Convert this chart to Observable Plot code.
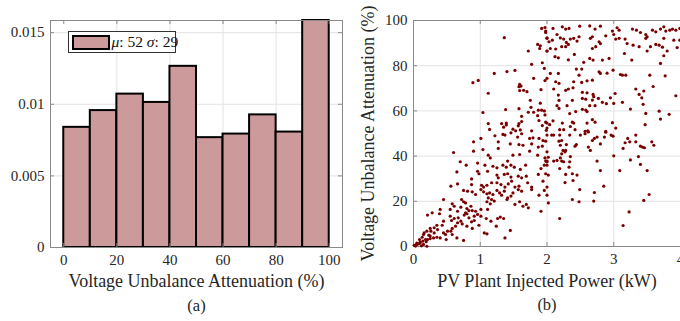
<!DOCTYPE html>
<html>
<head>
<meta charset="utf-8">
<script src="https://cdn.jsdelivr.net/npm/d3@7"></script>
<script src="https://cdn.jsdelivr.net/npm/@observablehq/plot@0.6"></script>
<style>
  body { margin: 0; background: #fff; font-family: "Liberation Serif", serif; }
  #wrap { position: relative; width: 680px; height: 321px; overflow: hidden; background: #fff; }
  #a, #b { position: absolute; top: 0; }
  #a { left: 0; }
  #b { left: 340px; }
  #wrap svg text { font-family: "Liberation Serif", "Times New Roman", serif !important; }
  #legend { position: absolute; left: 67.5px; top: 31px; width: 108px; height: 22px; border: 1px solid #333;
            background: #fff; box-sizing: border-box; font-size: 15.5px; color: #111; white-space: nowrap; }
  #legend .sw { position: absolute; left: 3px; top: 3px; width: 38px; height: 14.5px; background: #cc9a9a;
                border: 2px solid #000; box-sizing: border-box; }
  #legend .tx { position: absolute; left: 43px; top: 1px; line-height: 18px; }
</style>
</head>
<body>
<div id="wrap">
  <div id="a"></div>
  <div id="b"></div>
  <div id="legend"><div class="sw"></div><div class="tx"><i>μ</i>: 52 <i>σ</i>: 29</div></div>
</div>
<script>
// ---- Panel (a): histogram (probability density) ----
const binStart = [0, 10, 20, 30, 40, 50, 60, 70, 80, 90];
const binEnd   = [10, 20, 30, 40, 50, 60, 70, 80, 90, 100];
const density  = [0.00839, 0.00956, 0.01071, 0.01013, 0.01265, 0.00767, 0.00792, 0.00926, 0.00806, 0.01585];
const xTicksA = [0, 20, 40, 60, 80, 100];
const yTicksA = [0, 0.005, 0.01, 0.015];
const yTickLabelsA = ["0", "0.005", "0.01", "0.015"];
const xLabelA = "Voltage Unbalance Attenuation (%)";
const captionA = "(a)";

// ---- Panel (b): scatter ----
const xTicksB = [0, 1, 2, 3, 4];
const yTicksB = [0, 20, 40, 60, 80, 100];
const xLabelB = "PV Plant Injected Power (kW)";
const yLabelB = "Voltage Unbalance Attenuation (%)";
const captionB = "(b)";
// [injected power kW, attenuation %]
const scatterPoints = [
[1.92,96.5],[1.97,96.9],[1.98,94.7],[2.0,92.1],[1.36,92.4],[1.86,89.4],[1.90,88.8],[1.89,87.6],[2.0,86.5],[1.72,86.5],
[1.93,81.3],[1.77,80.6],[1.96,78.8],[1.52,77.9],[1.40,77.4],[1.21,76.6],[0.97,73.5],[0.89,72.5],[1.80,74.4],[1.97,73.4],
[1.59,71.8],[1.58,70.7],[1.61,71.0],[1.59,69.0],[1.65,69.1],[1.70,68.5],[1.12,67.8],[1.91,69.4],[1.75,64.7],[1.90,63.4],
[1.76,61.6],[1.58,61.0],[1.38,60.6],[1.04,59.3],[1.72,59.4],[1.80,59.4],[1.87,60.3],[1.92,60.3],[1.96,60.0],[1.86,57.9],
[1.97,58.2],[1.62,57.6],[1.88,55.7],[1.62,55.3],[1.12,54.4],[1.32,54.4],[1.39,54.6],[1.39,53.8],[1.58,54.4],[1.57,53.4],
[2.0,54.6],[1.93,53.5],[1.35,52.8],[1.14,51.8],[1.49,51.9],[1.53,51.2],[1.60,51.6],[1.77,51.2],[1.99,51.4],
[1.98,95.3],[2.09,96.5],[2.23,97.2],[2.33,96.5],[2.28,96.2],[2.49,97.5],[2.64,97.6],[2.72,96.2],[2.80,97.5],[3.05,96.8],
[3.08,95.7],[2.98,95.3],[3.28,96.2],[3.34,95.7],[3.40,94.7],[3.48,93.8],[3.58,95.7],[3.63,95.0],[3.70,96.2],[3.75,97.2],
[3.78,95.3],[3.84,95.7],[3.88,96.2],[3.93,95.7],[3.99,96.5],[2.0,92.3],[2.08,91.3],[2.03,90.6],[2.15,93.8],[2.20,92.3],
[2.25,91.8],[2.29,90.3],[2.32,89.4],[2.35,91.8],[2.40,92.1],[2.45,90.9],[2.48,92.8],[2.65,92.1],[2.68,92.8],[2.78,90.6],
[2.80,89.8],[2.88,93.2],[3.0,93.8],[3.03,91.8],[3.08,92.1],[3.17,91.8],[3.20,89.8],[3.29,89.1],[3.38,88.4],[3.48,92.1],
[3.50,92.8],[3.55,88.4],[3.63,89.4],[3.68,89.1],[3.73,88.2],[3.75,92.1],[3.80,86.5],[3.90,91.3],[3.95,88.0],[3.99,91.3],
[2.0,86.5],[2.05,87.6],[2.13,87.4],[2.22,88.4],[2.28,88.4],[2.68,87.6],[2.73,88.4],[3.16,85.4],[3.27,82.5],[3.50,86.5],
[2.12,84.0],[2.17,83.5],[2.32,82.6],[2.41,85.0],[2.64,83.2],[2.69,82.5],[2.83,82.5],[2.93,83.2],[3.75,84.4],[3.70,81.0],
[2.55,81.5],
[2.44,78.5],[2.52,78.5],[2.05,76.6],[2.17,76.6],[2.48,75.8],[2.78,77.3],[2.80,76.6],[2.90,76.7],[2.99,78.0],[3.10,76.1],
[3.13,75.8],[3.18,75.8],[3.54,75.8],[3.77,75.5],[2.0,74.4],[2.18,72.2],[2.13,72.9],[2.40,72.9],[2.52,72.6],[2.60,73.3],
[2.68,73.6],[3.33,69.7],[3.59,70.8],[3.45,68.8],[2.10,69.7],[2.28,69.1],[2.32,69.7],[2.39,70.2],[2.53,68.2],[2.60,68.0],
[2.69,67.3],[2.70,66.3],[3.02,67.7],[3.38,67.3],[3.93,66.7],[2.17,67.0],[2.18,64.7],[2.53,65.5],[2.58,65.2],[2.68,64.8],
[2.77,65.5],[2.95,65.8],[3.42,65.8],[2.38,64.7],[2.83,63.8],[2.89,63.2],[3.0,63.3],[3.13,63.8],[3.44,62.9],[2.15,62.3],
[2.30,62.3],[2.64,62.3],[2.72,62.3],[2.18,61.1],[2.53,60.7],[2.58,60.4],[3.25,60.8],[3.48,58.9],[3.68,59.9],[3.83,58.5],
[2.34,58.8],[2.43,59.7],[2.60,59.7],[3.70,56.4],
[1.98,55.0],[2.04,53.9],[2.09,55.6],[2.0,52.4],[2.23,54.6],[2.38,55.0],[2.40,54.6],[2.35,53.1],[2.60,54.6],[2.68,56.1],
[2.72,55.0],[2.98,54.8],[3.47,53.9],[2.19,51.7],[2.25,51.7],[2.42,51.7],[2.57,50.9],[2.61,51.2],[2.88,50.9],[3.03,52.4],
[1.01,47.8],[1.22,49.0],[1.34,49.6],[1.37,49.3],[1.46,50.3],[1.56,48.4],[1.62,49.9],[1.74,47.8],[1.79,48.1],[1.88,47.8],
[1.94,46.9],[0.90,46.3],[1.27,46.3],[1.45,45.4],[1.58,45.1],[1.64,44.8],[1.77,45.4],[1.87,44.0],[1.93,44.4],[0.60,41.6],
[0.90,42.2],[1.04,42.9],[1.27,43.4],[1.12,40.4],[1.15,39.2],[1.49,40.4],[1.59,40.7],[1.74,42.2],[1.86,40.4],[1.97,39.2],
[2.0,37.5],[0.70,37.5],[0.79,36.0],[0.96,36.9],[1.07,36.0],[1.19,35.5],[1.25,34.8],[1.34,36.0],[1.41,37.8],[1.39,35.1],
[1.46,36.0],[1.51,35.1],[1.60,34.1],[1.68,36.0],[1.91,34.5],[1.96,36.0],[2.0,37.8],[0.65,33.0],[0.96,33.3],[0.98,32.2],
[1.11,33.3],[1.25,31.6],[1.27,30.4],[1.36,31.9],[1.41,32.2],[1.46,30.7],[1.47,28.9],[1.57,31.1],[1.62,30.4],[1.69,31.1],
[1.87,31.9],[0.87,29.9],[0.87,27.4],[0.56,26.7],[0.66,27.7],[1.02,27.1],[1.05,26.3],[1.10,27.1],[1.17,28.2],[1.25,28.2],
[1.31,27.4],[1.37,26.3],[1.42,27.7],[1.52,26.3],[1.58,26.7],[1.71,28.2],[1.77,26.3],[1.94,28.9],[1.98,32.2],[0.75,24.8],
[0.81,24.5],[0.88,24.2],[0.93,23.0],[1.01,25.2],[1.05,24.2],[1.10,23.3],[1.14,23.7],[1.19,23.0],[1.25,24.8],[1.29,23.7],
[1.32,22.7],[1.36,24.5],[1.41,21.5],[1.49,23.7],[1.57,25.2],[1.62,24.5],[1.77,25.2],[1.88,22.7],[1.96,24.8],[2.0,26.3],
[0.45,20.8],[0.72,20.8],[0.75,19.8],[0.78,19.3],[1.12,21.5],[1.17,20.8],[1.10,19.8],[1.15,18.9],[1.21,20.1],[1.11,16.4],
[1.40,20.8],[1.46,22.3],[1.59,19.8],[1.64,17.8],[1.72,17.1],[1.69,18.6],[1.91,15.6],[1.52,18.6],[0.86,17.8],[0.80,16.8],
[0.71,17.4],[0.58,18.9],[0.61,17.8],[0.55,16.4],[0.66,15.6],[0.40,16.4],[0.28,14.9],[0.39,14.5],[0.88,15.9],[1.01,16.4],
[0.93,15.6],[0.83,15.9],[0.78,14.9],[0.21,13.9],[0.55,13.4],[0.61,12.4],[0.67,12.7],[0.76,13.9],[0.80,14.5],[0.83,12.7],
[0.91,13.4],[0.96,14.2],[1.01,13.4],[1.09,12.4],[1.16,11.2],[1.26,12.4],[1.30,13.0],[1.35,12.4],[1.24,9.0],[0.57,11.5],
[0.45,11.2],[0.43,9.4],[0.35,9.4],[0.31,8.3],[0.25,8.0],[0.20,6.8],[0.16,6.0],[0.15,5.3],[0.23,5.0],[0.31,6.0],
[0.36,7.5],[0.45,6.0],[0.51,6.8],[0.56,6.8],[0.58,8.0],[0.63,9.0],[0.66,10.5],[0.71,11.2],[0.73,10.0],[0.80,9.0],
[0.87,10.9],[0.91,11.5],[0.88,8.0],[0.98,9.4],[1.06,6.0],[1.10,5.6],[1.45,7.1],[1.37,3.8],[0.75,2.7],[0.65,3.8],
[0.49,3.1],[0.40,3.8],[0.35,4.1],[0.30,3.8],[0.25,3.5],[0.21,3.1],[0.18,3.1],[0.14,2.4],[0.10,1.6],[0.08,1.2],
[0.05,0.9],[0.03,0.6],[0.15,0.9],[0.19,2.1],[0.25,4.6],[0.09,3.1],[0.13,4.1],[0.26,6.8],[0.48,5.3],[0.58,5.3],
[0.01,0.5],[0.05,1.5],[0.10,2.0],[0.12,0.3],[0.20,0.1],[0.03,0.2],
[2.0,49.3],[2.07,49.3],[2.10,49.3],[2.19,49.3],[2.34,49.3],[2.50,49.3],[2.57,49.9],[2.62,50.7],[2.75,48.4],[2.71,47.8],
[2.68,46.9],[2.88,50.6],[2.86,48.4],[2.96,49.3],[2.99,48.8],[3.33,49.3],[3.21,47.8],[3.17,45.9],[3.24,46.3],[3.33,46.3],
[3.40,44.4],[3.43,44.0],[3.46,43.7],[3.57,46.3],[3.60,44.8],[1.98,46.6],[2.18,46.6],[2.22,46.9],[2.29,45.1],[2.42,44.4],
[2.44,45.1],[2.62,44.0],[2.65,42.5],[2.80,45.4],[2.20,44.8],[2.24,42.5],[2.28,42.5],[2.27,41.9],[2.22,41.0],[2.20,39.2],
[2.0,41.9],[2.02,39.5],[1.98,37.8],[2.0,36.0],[2.10,37.8],[2.15,38.1],[2.22,37.8],[2.25,37.5],[2.34,37.5],[2.35,39.8],
[3.0,40.1],[3.37,39.8],[3.14,43.4],[3.25,38.3],[3.40,36.3],[2.75,37.8],[2.33,35.1],[2.19,34.5],[2.28,31.9],[2.38,32.2],
[2.45,31.6],[2.80,33.6],[3.09,33.6],[3.50,33.6],[2.02,31.6],[2.27,28.3],[2.39,29.2],[2.85,26.7],[2.49,25.2],[2.71,23.9],
[3.53,23.0],[3.45,20.4],[2.0,22.7],[2.02,19.3],[2.38,20.8],[2.48,19.8],[2.70,20.1],[3.23,15.3],[2.19,12.4],[3.14,9.3]
];

const fontFam = '"Liberation Serif", "Times New Roman", serif';
const svgStyle = { fontFamily: fontFam, fontSize: "15px", color: "#262626", background: "transparent", overflow: "visible", maxWidth: "none" };
const gridColor = "#e3e3e3";
const frameColor = "#8a8a8a";

// Panel (a)
const WA = 345, HA = 321, mlA = 50, mrA = 3, mtA = 20, mbA = 74;
const fwA = WA - mlA - mrA, fhA = HA - mtA - mbA;
const bins = binStart.map((s, i) => ({ x1: s, x2: binEnd[i], y: density[i] }));
const plotA = Plot.plot({
  width: WA, height: HA,
  marginLeft: mlA, marginRight: mrA, marginTop: mtA, marginBottom: mbA,
  style: svgStyle,
  x: { domain: [-5, 105] },
  y: { domain: [0, 0.01585] },
  marks: [
    Plot.ruleX(xTicksA.slice(1, -1), { stroke: gridColor, strokeWidth: 1 }),
    Plot.ruleY(yTicksA.slice(1), { stroke: gridColor, strokeWidth: 1 }),
    Plot.rectY(bins, { x1: "x1", x2: "x2", y: "y", fill: "#cc9a9a", stroke: "#000", strokeWidth: 2 }),
    Plot.frame({ stroke: frameColor, strokeWidth: 1 }),
    Plot.tickX(xTicksA, { x: d => d, insetTop: fhA - 4, stroke: frameColor }),
    Plot.tickX(xTicksA, { x: d => d, insetBottom: fhA - 4, stroke: frameColor }),
    Plot.tickY(yTicksA, { y: d => d, insetRight: fwA - 4, stroke: frameColor }),
    Plot.tickY(yTicksA, { y: d => d, insetLeft: fwA - 4, stroke: frameColor }),
    Plot.axisX(xTicksA, { tickSize: 0, tickPadding: 7, fontSize: 15, label: null, tickFormat: d => String(d) }),
    Plot.axisY(yTicksA, { tickSize: 0, tickPadding: 6, fontSize: 15, label: null, tickFormat: d => yTickLabelsA[yTicksA.indexOf(d)] }),
    Plot.text([xLabelA], { text: d => d, frameAnchor: "bottom", textAnchor: "middle", dy: 39, fontSize: 18, fill: "#262626" }),
    Plot.text([captionA], { text: d => d, frameAnchor: "bottom", textAnchor: "middle", dy: 63, fontSize: 16.5, fill: "#262626" })
  ]
});
document.getElementById("a").appendChild(plotA);

// Panel (b)
const WB = 340, HB = 321, mlB = 73, mrB = 0, mtB = 20, mbB = 75;
const fwB = WB - mlB - mrB, fhB = HB - mtB - mbB;
const pts = scatterPoints.map(([p, a]) => ({ p, a }));
const plotB = Plot.plot({
  width: WB, height: HB,
  marginLeft: mlB, marginRight: mrB, marginTop: mtB, marginBottom: mbB,
  style: svgStyle,
  x: { domain: [0, 4] },
  y: { domain: [0, 100] },
  marks: [
    Plot.ruleX(xTicksB.slice(1, -1), { stroke: gridColor, strokeWidth: 1 }),
    Plot.ruleY(yTicksB.slice(1, -1), { stroke: gridColor, strokeWidth: 1 }),
    Plot.frame({ stroke: frameColor, strokeWidth: 1 }),
    Plot.tickX(xTicksB, { x: d => d, insetTop: fhB - 4, stroke: frameColor }),
    Plot.tickX(xTicksB, { x: d => d, insetBottom: fhB - 4, stroke: frameColor }),
    Plot.tickY(yTicksB, { y: d => d, insetRight: fwB - 4, stroke: frameColor }),
    Plot.dot(pts, { x: "p", y: "a", r: 1.6, fill: "#7a0000", stroke: null }),
    Plot.axisX(xTicksB, { tickSize: 0, tickPadding: 7, fontSize: 15, label: null, tickFormat: d => String(d) }),
    Plot.axisY(yTicksB, { tickSize: 0, tickPadding: 6, fontSize: 15, label: null, tickFormat: d => String(d) }),
    Plot.text([xLabelB], { text: d => d, frameAnchor: "bottom", textAnchor: "middle", dy: 40, fontSize: 18, fill: "#262626" }),
    Plot.text([captionB], { text: d => d, frameAnchor: "bottom", textAnchor: "middle", dy: 63, fontSize: 16.5, fill: "#262626" }),
    Plot.text([yLabelB], { text: d => d, frameAnchor: "left", textAnchor: "middle", rotate: -90, dx: -45, fontSize: 18, fill: "#262626" })
  ]
});
document.getElementById("b").appendChild(plotB);
</script>
</body>
</html>
